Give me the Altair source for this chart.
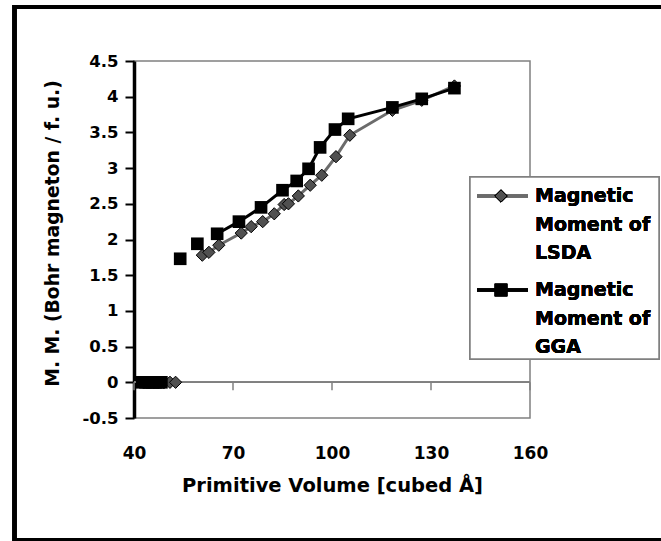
import altair as alt
import pandas as pd

# ---- data ----
lsda_vol = [43, 44.5, 46, 47.5, 49, 50.9, 52.6,
            60.7, 62.7, 65.7, 72.5, 75.5, 79.0, 82.5, 85.5, 86.8, 89.8,
            93.4, 96.9, 101.2, 105.4, 118.3, 127.2, 137.1]
lsda_mm = [0, 0, 0, 0, 0, 0, 0,
           1.78, 1.82, 1.92, 2.09, 2.18, 2.25, 2.36, 2.49, 2.50, 2.61,
           2.76, 2.90, 3.16, 3.46, 3.81, 3.95, 4.15]
lsda_seg = [0] * 7 + [1] * 17

gga_vol = [42.5, 43.5, 44.5, 45.5, 46.5, 47.5, 48.3,
           54.0, 59.2, 65.2, 71.8, 78.5, 85.0, 89.3, 92.9, 96.4,
           100.9, 104.9, 118.3, 127.2, 137.1]
gga_mm = [0, 0, 0, 0, 0, 0, 0,
          1.73, 1.94, 2.08, 2.25, 2.45, 2.69, 2.82, 2.99, 3.29,
          3.54, 3.69, 3.85, 3.97, 4.12]
gga_seg = [0] * 7 + [1, 2] + [3] * 12

x_ticks = [40, 70, 100, 130, 160]
y_ticks = [-0.5, 0, 0.5, 1, 1.5, 2, 2.5, 3, 3.5, 4, 4.5]

x_title = "Primitive Volume [cubed Å]"
y_title = "M. M. (Bohr magneton / f. u.)"
legend_lsda = ["Magnetic", "Moment of", "LSDA"]
legend_gga = ["Magnetic", "Moment of", "GGA"]

lsda = pd.DataFrame({"vol": lsda_vol, "mm": lsda_mm, "seg": lsda_seg})
gga = pd.DataFrame({"vol": gga_vol, "mm": gga_mm, "seg": gga_seg})
ticks_df = pd.DataFrame({"t": x_ticks})

FONT = "DejaVu Sans"
LSDA_LINE = "#6b6b6b"
LSDA_FILL = "#505050"

xs = alt.Scale(domain=[40, 160], nice=False, zero=False)
ys = alt.Scale(domain=[-0.5, 4.5], nice=False, zero=False)

x_axis = alt.Axis(values=x_ticks, domain=False, ticks=False, grid=False,
                  labelPadding=27, labelFlush=False, labelOverlap=False,
                  labelFont=FONT, labelFontWeight="bold", labelFontSize=17,
                  labelColor="black",
                  title=x_title, titleFont=FONT, titleFontWeight="bold",
                  titleFontSize=19.5, titleColor="black",
                  titleY=67, titleBaseline="middle")
y_axis = alt.Axis(values=y_ticks, labelExpr="datum.value", grid=False,
                  domainColor="black", domainWidth=3.5,
                  tickColor="black", tickWidth=2, tickSize=9,
                  labelPadding=7, labelFlush=False, labelOverlap=False,
                  labelFont=FONT, labelFontWeight="bold", labelFontSize=16.5,
                  labelColor="black",
                  title=y_title, titleFont=FONT, titleFontWeight="bold",
                  titleFontSize=18.8, titleColor="black",
                  titleX=-82, titleY=172, titleAngle=270,
                  titleAlign="center", titleBaseline="middle")


def X(field):
    return alt.X(field, scale=xs, axis=x_axis)


def Y(field):
    return alt.Y(field, scale=ys, axis=y_axis)


# outer frame
frame = alt.Chart(ticks_df).mark_rect(filled=False, stroke="black", strokeWidth=4).encode(
    x=alt.value(-119.5), x2=alt.value(540), y=alt.value(-54), y2=alt.value(479))

# zero line (x axis crossing at 0) with its ticks
zero_rule = alt.Chart(ticks_df).mark_rule(color="#808080", strokeWidth=1.5).encode(
    y=alt.Y(datum=0, scale=ys, axis=y_axis))
zero_ticks = alt.Chart(ticks_df).mark_rule(color="#808080", strokeWidth=1.5).encode(
    x=X("t:Q"),
    y=alt.Y(datum=0, scale=ys, axis=y_axis),
    y2=alt.datum(-0.112))

lsda_line = alt.Chart(lsda).mark_line(color=LSDA_LINE, strokeWidth=3).encode(
    x=X("vol:Q"), y=Y("mm:Q"), detail="seg:N", order="vol:Q")
lsda_pts = alt.Chart(lsda).mark_point(shape="diamond", filled=True, fill=LSDA_FILL,
                                      stroke="black", strokeWidth=1, size=150,
                                      opacity=1).encode(
    x=X("vol:Q"), y=Y("mm:Q"))

gga_line = alt.Chart(gga).mark_line(color="black", strokeWidth=3).encode(
    x=X("vol:Q"), y=Y("mm:Q"), detail="seg:N", order="vol:Q")
gga_pts = alt.Chart(gga).mark_square(color="black", size=160, opacity=1).encode(
    x=X("vol:Q"), y=Y("mm:Q"))

# legend (drawn by hand)
leg_box = alt.Chart(ticks_df).mark_rect(fill="white", stroke="#808080", strokeWidth=1.5).encode(
    x=alt.value(336), x2=alt.value(525), y=alt.value(116), y2=alt.value(298))
leg_l_line = alt.Chart(ticks_df).mark_rule(color=LSDA_LINE, strokeWidth=3).encode(
    x=alt.value(343), x2=alt.value(394), y=alt.value(135))
leg_l_pt = alt.Chart(ticks_df).mark_point(shape="diamond", filled=True, fill=LSDA_FILL,
                                          stroke="black", strokeWidth=1, size=150,
                                          opacity=1).encode(
    x=alt.value(367), y=alt.value(135))
leg_g_line = alt.Chart(ticks_df).mark_rule(color="black", strokeWidth=3).encode(
    x=alt.value(343), x2=alt.value(394), y=alt.value(229))
leg_g_pt = alt.Chart(ticks_df).mark_square(color="black", size=160, opacity=1).encode(
    x=alt.value(367), y=alt.value(229))

leg_texts = []
for lines, y0 in ((legend_lsda, 135), (legend_gga, 229)):
    for i, t in enumerate(lines):
        leg_texts.append(
            alt.Chart(ticks_df).mark_text(align="left", baseline="middle", font=FONT,
                                          fontWeight="bold", fontSize=19,
                                          color="black").encode(
                x=alt.value(401), y=alt.value(y0 + i * 28.5), text=alt.value(t)))

chart = alt.layer(
    frame, zero_rule, zero_ticks, lsda_line, lsda_pts, gga_line, gga_pts,
    leg_box, leg_l_line, leg_l_pt, leg_g_line, leg_g_pt, *leg_texts
).properties(
    width=396, height=357,
    autosize="none",
    padding={"left": 134, "top": 61, "right": 131, "bottom": 123},
    background="white",
).configure_view(stroke="#808080", strokeWidth=1.5)

chart.save("out.html", embed_options={"renderer": "svg", "actions": False})
